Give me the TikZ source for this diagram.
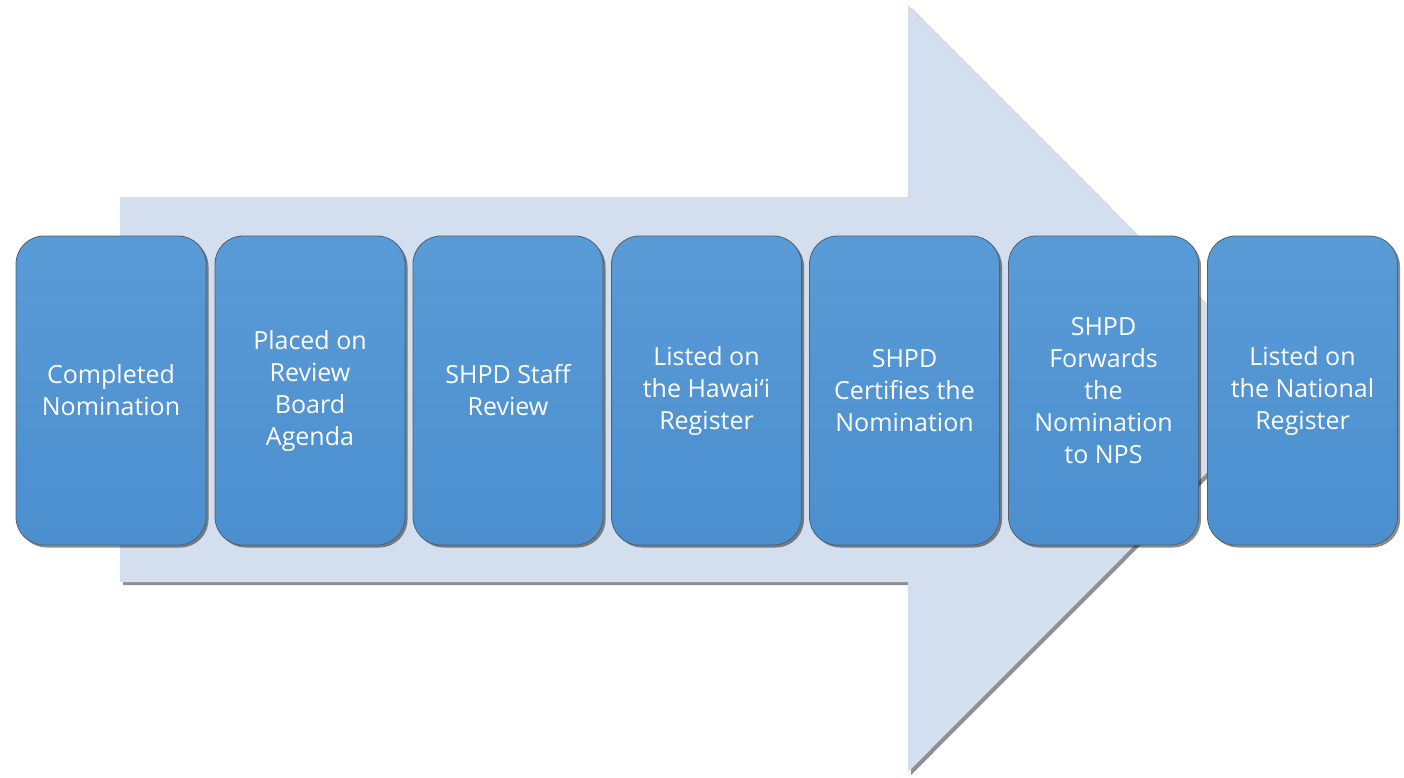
\documentclass[tikz,border=0pt]{standalone}
\usepackage{fontspec}
\setmainfont{Open Sans}
\usetikzlibrary{shadows}
\definecolor{arrowfill}{RGB}{211,223,238}
\definecolor{boxtop}{RGB}{89,155,214}
\definecolor{boxbot}{RGB}{76,143,207}
\definecolor{boxedge}{RGB}{80,96,112}
\tikzset{
  stepbox/.style={rectangle, rounded corners=28pt, minimum width=190pt,
    minimum height=309pt, inner sep=0pt, align=center, text=white,
    top color=boxtop, bottom color=boxbot, draw=boxedge, line width=0.8pt,
    font=\fontsize{25}{32}\selectfont,
    drop shadow={shadow xshift=2.5pt, shadow yshift=-2.5pt, opacity=0.45, fill=black}},
  bigarrow/.style={fill=arrowfill,
    drop shadow={shadow xshift=3pt, shadow yshift=-3pt, opacity=0.55, fill=black!80}}
}
\begin{document}
\begin{tikzpicture}[x=1pt,y=-1pt]
\useasboundingbox (0,0) rectangle (1404,777);
% background block arrow
\path[bigarrow] (120,197) -- (908,197) -- (908,5) -- (1291,388.5)
  -- (908,772) -- (908,582) -- (120,582) -- cycle;
% process steps
\node[stepbox] (s1) at (111,390.5) {Completed\\Nomination};
\node[stepbox] (s2) at (310,390.5) {Placed on\\Review\\Board\\Agenda};
\node[stepbox] (s3) at (508,390.5) {SHPD Staff\\Review};
\node[stepbox] (s4) at (706.5,390.5) {Listed on\\the Hawai‘i\\Register};
\node[stepbox] (s5) at (904.5,390.5) {SHPD\\Certifies the\\Nomination};
\node[stepbox] (s6) at (1103.5,390.5) {SHPD\\Forwards\\the\\Nomination\\to NPS};
\node[stepbox] (s7) at (1302.5,390.5) {Listed on\\the National\\Register};
\end{tikzpicture}
\end{document}
